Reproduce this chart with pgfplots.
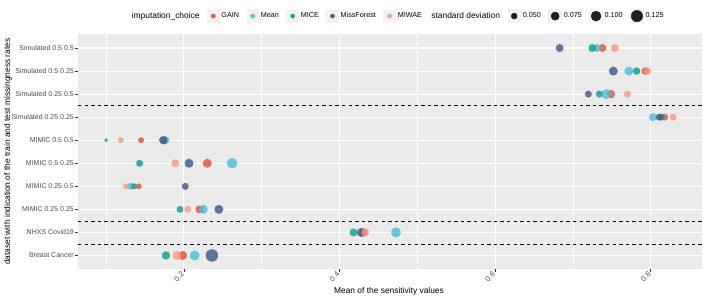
\documentclass[border=0pt]{standalone}
\usepackage{fontspec}
\setmainfont{Liberation Sans}
\usepackage{pgfplots}
\usepackage{pgfplotstable}
\pgfplotsset{compat=1.18}

\definecolor{cGAIN}{HTML}{E64B35}
\definecolor{cMean}{HTML}{4DBBD5}
\definecolor{cMICE}{HTML}{00A087}
\definecolor{cMissForest}{HTML}{3C5488}
\definecolor{cMIWAE}{HTML}{F39B7F}
\definecolor{panelbg}{HTML}{EBEBEB}
\definecolor{keybg}{HTML}{F2F2F2}
\definecolor{gray30}{HTML}{4D4D4D}
\definecolor{gray20}{HTML}{333333}

% y: 10 = Simulated 0.5 0.5 ... 1 = Breast Cancer
\pgfplotstableread{
x y sd
0.738 10 0.072
0.793 9 0.066
0.749 8 0.078
0.818 7 0.060
0.145 6 0.050
0.230 5 0.085
0.142 4 0.050
0.220 3 0.072
0.431 2 0.078
0.1985 1 0.085
}\tGAIN
\pgfplotstableread{
x y sd
0.731 10 0.072
0.772 9 0.085
0.743 8 0.100
0.803 7 0.072
0.176 6 0.078
0.262 5 0.108
0.1316 4 0.060
0.225 3 0.085
0.4726 2 0.100
0.2139 1 0.100
}\tMean
\pgfplotstableread{
x y sd
0.725 10 0.072
0.782 9 0.066
0.734 8 0.060
0.814 7 0.060
0.100 6 0.034
0.143 5 0.060
0.136 4 0.050
0.195 3 0.060
0.418 2 0.072
0.177 1 0.078
}\tMICE
\pgfplotstableread{
x y sd
0.683 10 0.072
0.752 9 0.085
0.720 8 0.060
0.811 7 0.060
0.1735 6 0.078
0.2066 5 0.085
0.2018 4 0.060
0.245 3 0.085
0.428 2 0.085
0.236 1 0.144
}\tMissForest
\pgfplotstableread{
x y sd
0.754 10 0.072
0.796 9 0.066
0.770 8 0.060
0.829 7 0.060
0.119 6 0.050
0.189 5 0.072
0.1256 4 0.050
0.205 3 0.060
0.433 2 0.072
0.191 1 0.085
}\tMIWAE

\pgfplotsset{
  bub/.style={only marks, scatter, mark=*, forget plot, color=#1,
    mark options={draw opacity=0, fill opacity=0.8},
    scatter/use mapped color={draw opacity=0, fill=#1},
    visualization depends on={0.5*sqrt(36+1280*(\thisrow{sd}-0.05)) \as \msize},
    scatter/@pre marker code/.append style={/tikz/mark size=\msize}},
  colkey/.style={legend image code/.code={\fill[keybg] (0bp,-6bp) rectangle (12bp,6bp); \fill[#1, fill opacity=0.85] (6bp,0bp) circle (2.1bp);}},
  sizekey/.style={legend image code/.code={\fill[keybg] (0bp,-6.5bp) rectangle (13bp,6.5bp); \fill[black!88] (6.5bp,0bp) circle (#1);}},
}

\begin{document}
\begin{tikzpicture}
\useasboundingbox (0,0) rectangle (706bp,299bp);
\begin{axis}[
  at={(78bp,29.7bp)}, anchor=south west,
  scale only axis, width=624bp, height=235.1bp,
  xmin=0.0639, xmax=0.866, ymin=0.4, ymax=10.6,
  axis background/.style={fill=panelbg},
  axis line style={draw=none},
  tick pos=left, tick align=outside,
  major tick length=2.5bp, minor tick length=0pt,
  tick style={gray20, line width=0.5bp},
  xtick={0.2,0.4,0.6,0.8},
  minor xtick={0.1,0.3,0.5,0.7},
  xticklabels={0.2,0.4,0.6,0.8},
  ytick={1,2,3,4,5,6,7,8,9,10},
  yticklabels={Breast Cancer, NHXS Covid19, MIMIC 0.25 0.25, MIMIC 0.25 0.5, MIMIC 0.5 0.25, MIMIC 0.5 0.5, Simulated 0.25 0.25, Simulated 0.25 0.5, Simulated 0.5 0.25, Simulated 0.5 0.5},
  grid=both,
  major grid style={white, line width=1.1bp},
  minor grid style={white, line width=0.55bp},
  tick label style={font=\fontsize{7bp}{8bp}\selectfont, text=gray30},
  xticklabel style={rotate=45, anchor=east, inner sep=1.5bp, font=\fontsize{7.5bp}{8bp}\selectfont},
  yticklabel style={inner sep=1.5bp},
  xlabel={Mean of the sensitivity values},
  ylabel={dataset with indication of the train and test missingness rates},
  label style={font=\fontsize{8.4bp}{9bp}\selectfont},
  xlabel style={at={(axis description cs:0.4984,-0.0923)}, anchor=center},
  ylabel style={at={(axis description cs:-0.1122,0.5)}, anchor=center},
  legend columns=11,
  legend cell align=left,
  legend style={at={(axis description cs:0.5124,1.077)}, anchor=center,
    draw=none, fill=none, inner sep=0pt,
    font=\fontsize{7.2bp}{8bp}\selectfont,
    /tikz/every even column/.append style={column sep=5.5bp},
    /tikz/column 2/.append style={column sep=3bp},
    /tikz/column 12/.append style={column sep=15bp},
    /tikz/column 14/.append style={column sep=3bp}},
]
\addlegendimage{empty legend}
\addlegendentry{\fontsize{8.4bp}{9bp}\selectfont imputation\_choice}
\addlegendimage{colkey=cGAIN}\addlegendentry{GAIN}
\addlegendimage{colkey=cMean}\addlegendentry{Mean}
\addlegendimage{colkey=cMICE}\addlegendentry{MICE}
\addlegendimage{colkey=cMissForest}\addlegendentry{MissForest}
\addlegendimage{colkey=cMIWAE}\addlegendentry{MIWAE}
\addlegendimage{empty legend}
\addlegendentry{\fontsize{8.4bp}{9bp}\selectfont standard deviation}
\addlegendimage{sizekey=3bp}\addlegendentry{0.050}
\addlegendimage{sizekey=4.1bp}\addlegendentry{0.075}
\addlegendimage{sizekey=5bp}\addlegendentry{0.100}
\addlegendimage{sizekey=5.75bp}\addlegendentry{0.125}

\addplot[bub=cGAIN] table[x=x,y=y] {\tGAIN};
\addplot[bub=cMean] table[x=x,y=y] {\tMean};
\addplot[bub=cMICE] table[x=x,y=y] {\tMICE};
\addplot[bub=cMissForest] table[x=x,y=y] {\tMissForest};
\addplot[bub=cMIWAE] table[x=x,y=y] {\tMIWAE};

\addplot[forget plot, black, line width=0.7bp, dash pattern=on 3.3bp off 3.3bp] coordinates {(0.0639,7.5) (0.866,7.5)};
\addplot[forget plot, black, line width=0.7bp, dash pattern=on 3.3bp off 3.3bp] coordinates {(0.0639,2.5) (0.866,2.5)};
\addplot[forget plot, black, line width=0.7bp, dash pattern=on 3.3bp off 3.3bp] coordinates {(0.0639,1.5) (0.866,1.5)};
\end{axis}
\end{tikzpicture}
\end{document}
